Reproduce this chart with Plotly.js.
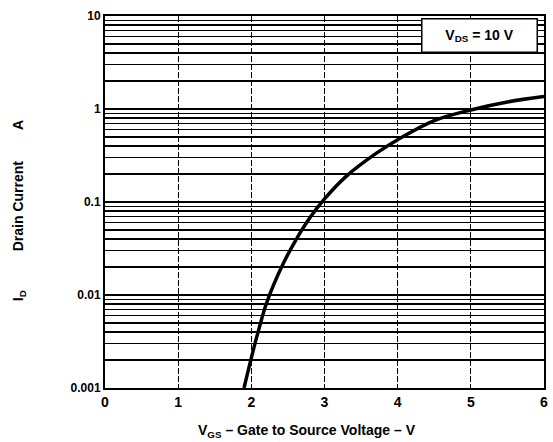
<!DOCTYPE html>
<html>
<head>
<meta charset="utf-8">
<script src="https://cdn.plot.ly/plotly-3.0.1.min.js"></script>
<style>html,body{margin:0;padding:0;background:#fff;}#chart{width:553px;height:442px;}</style>
</head>
<body>
<div id="chart"></div>
<script>
// Gate voltage (V) and drain current (A)
const vgs = [1.90, 2.00, 2.10, 2.20, 2.30, 2.45, 2.60, 2.80, 3.00, 3.30, 3.70, 4.00, 4.50, 5.00, 5.50, 6.00];
const idA = [0.001, 0.00211, 0.00422, 0.00785, 0.0126, 0.0229, 0.038, 0.0676, 0.108, 0.19, 0.331, 0.468, 0.75, 0.977, 1.19, 1.36];
const yTickVals = [0.001, 0.01, 0.1, 1, 10];
const yTickText = ["0.001", "0.01", "0.1", "1", "10"];
const xTickVals = [0, 1, 2, 3, 4, 5, 6];
const xTickText = ["0", "1", "2", "3", "4", "5", "6"];

const fontFam = "Liberation Sans, Arial, sans-serif";
const gap = '\u00a0'.repeat(10);

const trace = {
  x: vgs, y: idA, type: 'scatter', mode: 'lines',
  line: {color: '#000', width: 3.5, shape: 'spline', smoothing: 1},
  hoverinfo: 'skip', showlegend: false
};

const layout = {
  width: 553, height: 442,
  margin: {l: 105, r: 9, t: 16, b: 54},
  paper_bgcolor: '#fff', plot_bgcolor: '#fff',
  font: {family: fontFam, color: '#000', size: 12},
  xaxis: {
    range: [0, 6], tickvals: xTickVals, ticktext: xTickText,
    showgrid: true, gridcolor: '#000', gridwidth: 1.3, griddash: '6px,2px',
    showline: true, linecolor: '#000', linewidth: 2, mirror: true,
    ticks: '', zeroline: false,
    tickfont: {family: fontFam, size: 14, weight: 'bold'}
  },
  yaxis: {
    type: 'log', range: [-3, 1], tickvals: yTickVals, ticktext: yTickText,
    showgrid: true, gridcolor: '#000', gridwidth: 1.5,
    minor: {showgrid: true, gridcolor: '#000', gridwidth: 1.3, dtick: 'D1', ticks: ''},
    showline: true, linecolor: '#000', linewidth: 2, mirror: true,
    ticks: '', zeroline: false,
    tickfont: {family: fontFam, size: 12, weight: 'bold'}
  },
  annotations: [
    {
      xref: 'paper', yref: 'paper', x: 0.986, y: 0.995, xanchor: 'right', yanchor: 'top',
      text: 'V<sub>DS</sub> = 10 V', showarrow: false,
      bgcolor: '#fff', bordercolor: '#000', borderwidth: 1.5,
      width: 112, height: 30,
      font: {family: fontFam, size: 14, weight: 'bold'}
    },
    {
      xref: 'paper', yref: 'paper', x: -0.196, y: 0.478, xanchor: 'center', yanchor: 'middle',
      textangle: -90, text: 'I<sub>D</sub>' + gap + 'Drain Current' + '\u00a0'.repeat(8) + 'A', showarrow: false,
      font: {family: fontFam, size: 14, weight: 'bold'}
    },
    {
      xref: 'paper', yref: 'paper', x: 0.46, y: -0.085, xanchor: 'center', yanchor: 'top',
      text: 'V<sub>GS</sub> \u2013 Gate to Source Voltage \u2013 V', showarrow: false,
      font: {family: fontFam, size: 14, weight: 'bold'}
    }
  ]
};

Plotly.newPlot('chart', [trace], layout, {displayModeBar: false, staticPlot: true});
</script>
</body>
</html>
